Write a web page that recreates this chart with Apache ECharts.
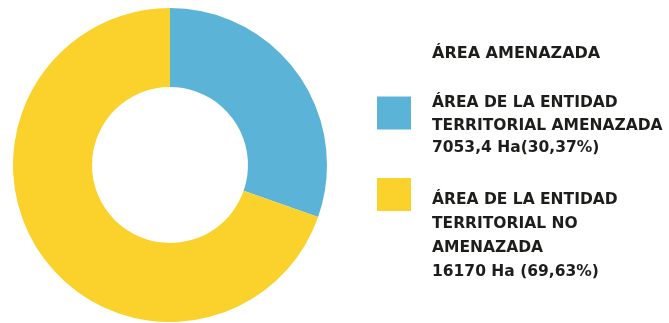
<!DOCTYPE html>
<html>
<head>
<meta charset="utf-8">
<script src="https://cdn.jsdelivr.net/npm/echarts@6/dist/echarts.min.js"></script>
<style>
  html, body { margin: 0; padding: 0; background: #ffffff; }
  #chart { width: 669px; height: 323px; }
</style>
</head>
<body>
<div id="chart"></div>
<script>
// Superficie de la entidad territorial según amenaza
const chartTitle = 'ÁREA AMENAZADA';
const categories = [
  'ÁREA DE LA ENTIDAD\nTERRITORIAL AMENAZADA',
  'ÁREA DE LA ENTIDAD\nTERRITORIAL NO\nAMENAZADA'
];
const hectares = [7053.4, 16170];
const valueLabels = ['7053,4 Ha(30,37%)', '16170 Ha (69,63%)'];
const sliceColors = ['#5bb4d8', '#fad22b'];

const FONT_FAMILY = '"DejaVu Sans", "Liberation Sans", sans-serif';
const TEXT_COLOR = '#1d1d1b';

// Legend blocks: colour swatch plus a multi-line caption
const swatchTops = [96.5, 178];
const captionTops = [92, 188];
const captionLineHeights = [22.5, 24];

const legendGraphics = [{
  type: 'text',
  x: 432,
  y: 53.5,
  style: {
    text: chartTitle,
    fontFamily: FONT_FAMILY,
    fontWeight: 'bold',
    fontSize: 16,
    fill: TEXT_COLOR,
    verticalAlign: 'middle'
  }
}];
categories.forEach((name, i) => {
  legendGraphics.push({
    type: 'rect',
    shape: { x: 377, y: swatchTops[i], width: 34, height: 33 },
    style: { fill: sliceColors[i] }
  });
  legendGraphics.push({
    type: 'text',
    x: 432,
    y: captionTops[i],
    style: {
      text: name + '\n' + valueLabels[i],
      fontFamily: FONT_FAMILY,
      fontWeight: 'bold',
      fontSize: 15.5,
      lineHeight: captionLineHeights[i],
      fill: TEXT_COLOR,
      verticalAlign: 'top'
    }
  });
});

const chart = echarts.init(document.getElementById('chart'), null, { renderer: 'canvas' });
chart.setOption({
  animation: false,
  backgroundColor: '#ffffff',
  graphic: legendGraphics,
  series: [{
    type: 'pie',
    center: [170, 165],
    radius: [78, 157],
    startAngle: 90,
    clockwise: true,
    silent: true,
    label: { show: false },
    labelLine: { show: false },
    itemStyle: { borderWidth: 0 },
    data: categories.map((name, i) => ({
      name: name,
      value: hectares[i],
      itemStyle: { color: sliceColors[i] }
    }))
  }]
});
</script>
</body>
</html>
